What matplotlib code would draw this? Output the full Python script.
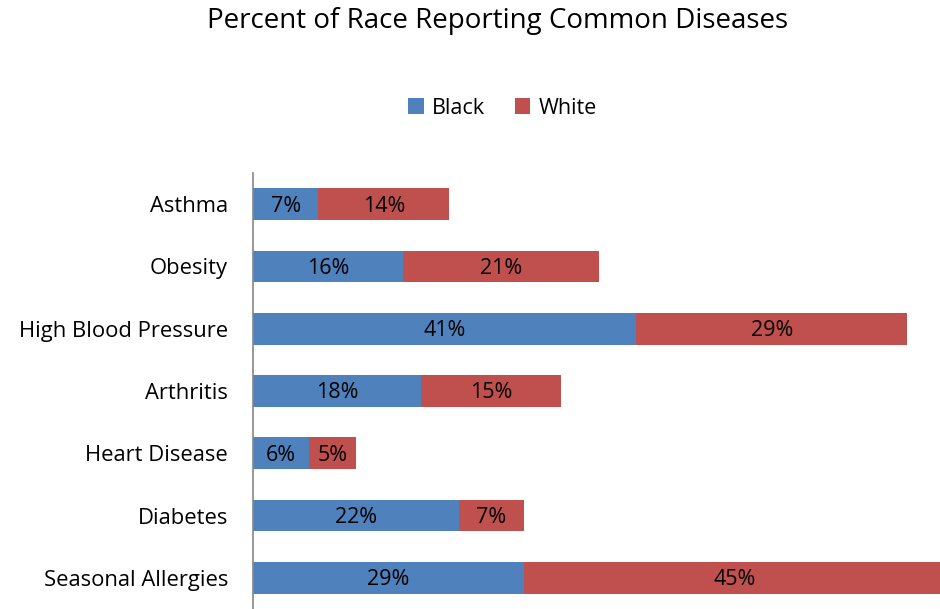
import matplotlib.pyplot as plt
import numpy as np

categories = ["Asthma", "Obesity", "High Blood Pressure", "Arthritis",
              "Heart Disease", "Diabetes", "Seasonal Allergies"]
black = [7, 16, 41, 18, 6, 22, 29]
white = [14, 21, 29, 15, 5, 7, 45]

plt.rcParams['font.family'] = ['Open Sans', 'DejaVu Sans']

fig = plt.figure(figsize=(9.4, 6.09), dpi=100)
ax = fig.add_axes([253/940, 0, 1 - 253/940, (609-173)/609])

y = np.arange(len(categories))
h = 0.51
b1 = ax.barh(y, black, height=h, color='#4F81BD', label='Black')
b2 = ax.barh(y, white, left=black, height=h, color='#C0504D', label='White')

fs = 15.5
for i in range(len(categories)):
    ax.text(black[i]/2, y[i] + 0.03, f"{black[i]}%", ha='center', va='center', fontsize=fs, color='black')
    ax.text(black[i] + white[i]/2, y[i] + 0.03, f"{white[i]}%", ha='center', va='center', fontsize=fs, color='black')

ax.set_ylim(len(categories) - 0.5, -0.5)
ax.set_xlim(0, 73.5)
ax.set_yticks(y)
ax.set_yticklabels(categories, fontsize=15.8)
ax.tick_params(axis='y', length=0, pad=18)
ax.set_xticks([])
for s in ['top', 'right', 'bottom']:
    ax.spines[s].set_visible(False)
ax.spines['left'].set_color('#868686')
ax.spines['left'].set_linewidth(1.2)

fig.text(0.529, 1 - 21/609, "Percent of Race Reporting Common Diseases",
         ha='center', va='center', fontsize=20)
fig.legend(handles=[b1, b2], labels=['Black', 'White'], loc='center',
           bbox_to_anchor=(0.535, 1 - 108/609), ncol=2, frameon=False,
           fontsize=fs, handlelength=0.7, handleheight=0.7, columnspacing=1.4,
           handletextpad=0.4)

fig.savefig('out.png', dpi=100)
